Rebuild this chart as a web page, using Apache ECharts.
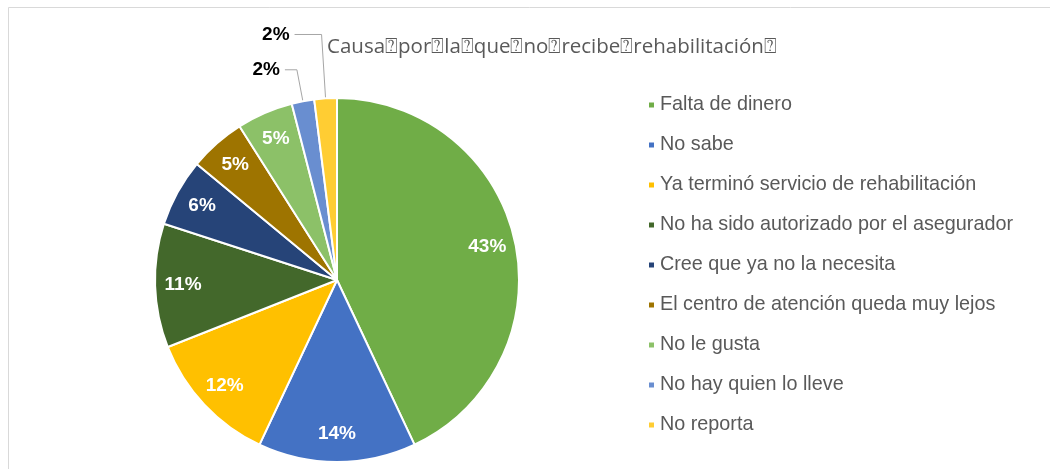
<!DOCTYPE html>
<html>
<head>
<meta charset="utf-8">
<script src="https://cdn.jsdelivr.net/npm/echarts@6/dist/echarts.min.js"></script>
<style>
  html, body { margin: 0; padding: 0; background: #fff; }
  #main { width: 1050px; height: 469px; }
</style>
</head>
<body>
<div id="main"></div>
<script>
var titleText = 'Causa\u2370por\u2370la\u2370que\u2370no\u2370recibe\u2370rehabilitación\u2370';
var categories = [
    'Falta de dinero',
    'No sabe',
    'Ya terminó servicio de rehabilitación',
    'No ha sido autorizado por el asegurador',
    'Cree que ya no la necesita',
    'El centro de atención queda muy lejos',
    'No le gusta',
    'No hay quien lo lleve',
    'No reporta'
];
var values = [43, 14, 12, 11, 6, 5, 5, 2, 2];
var colors = ['#70AD47', '#4472C4', '#FFC000', '#43682B', '#264478', '#9E7400', '#8CC168', '#698ED0', '#FFCD33'];
// the two small slices get their label outside, with a leader line
var outsideIdx = [7, 8];

var chart = echarts.init(document.getElementById('main'));

var mainData = [];
var labelData = [];
for (var i = 0; i < values.length; i++) {
    var item = {
        name: categories[i],
        value: values[i],
        itemStyle: {color: colors[i]}
    };
    if (outsideIdx.indexOf(i) >= 0) {
        item.label = {
            show: true,
            position: 'outside',
            color: '#000',
            fontWeight: 'bold',
            fontSize: 19,
            fontFamily: 'Liberation Sans',
            formatter: '{c}%'
        };
        item.labelLine = {
            show: true,
            length: i === 7 ? 32 : 64,
            length2: i === 7 ? 12 : 27,
            smooth: false,
            lineStyle: {color: '#A6A6A6', width: 1}
        };
    }
    mainData.push(item);
    labelData.push({
        name: categories[i],
        value: values[i],
        label: {show: outsideIdx.indexOf(i) < 0}
    });
}

chart.setOption({
    backgroundColor: '#fff',
    color: colors,
    title: {
        text: titleText,
        left: 322,
        top: 32,
        textStyle: {
            color: '#595959',
            fontSize: 20.5,
            fontWeight: 'normal',
            fontFamily: 'Open Sans'
        }
    },
    legend: {
        orient: 'vertical',
        left: 642,
        top: 90,
        icon: 'rect',
        itemWidth: 7,
        itemHeight: 7,
        itemGap: 20,
        data: categories,
        textStyle: {
            color: '#595959',
            fontSize: 19.8,
            lineHeight: 20,
            fontFamily: 'Liberation Sans'
        }
    },
    graphic: [{
        type: 'rect',
        shape: {x: 8.5, y: 7.5, width: 1100, height: 500},
        style: {fill: 'none', stroke: '#D9D9D9', lineWidth: 1},
        silent: true
    }],
    series: [{
        name: 'main',
        type: 'pie',
        center: [337, 280],
        radius: [0, 182],
        startAngle: 90,
        clockwise: true,
        avoidLabelOverlap: false,
        itemStyle: {borderColor: '#fff', borderWidth: 2},
        label: {show: false},
        labelLine: {show: false},
        emphasis: {disabled: true},
        data: mainData
    }, {
        // transparent ring, used only to put the inside labels at ~0.84 of the radius
        name: 'labels',
        type: 'pie',
        center: [337, 280],
        radius: [140, 162],
        startAngle: 90,
        clockwise: true,
        silent: true,
        avoidLabelOverlap: false,
        itemStyle: {color: 'rgba(0,0,0,0)'},
        label: {
            show: true,
            position: 'inside',
            color: '#fff',
            fontWeight: 'bold',
            fontSize: 19,
            fontFamily: 'Liberation Sans',
            formatter: '{c}%'
        },
        labelLine: {show: false},
        emphasis: {disabled: true},
        data: labelData
    }]
});
</script>
</body>
</html>
